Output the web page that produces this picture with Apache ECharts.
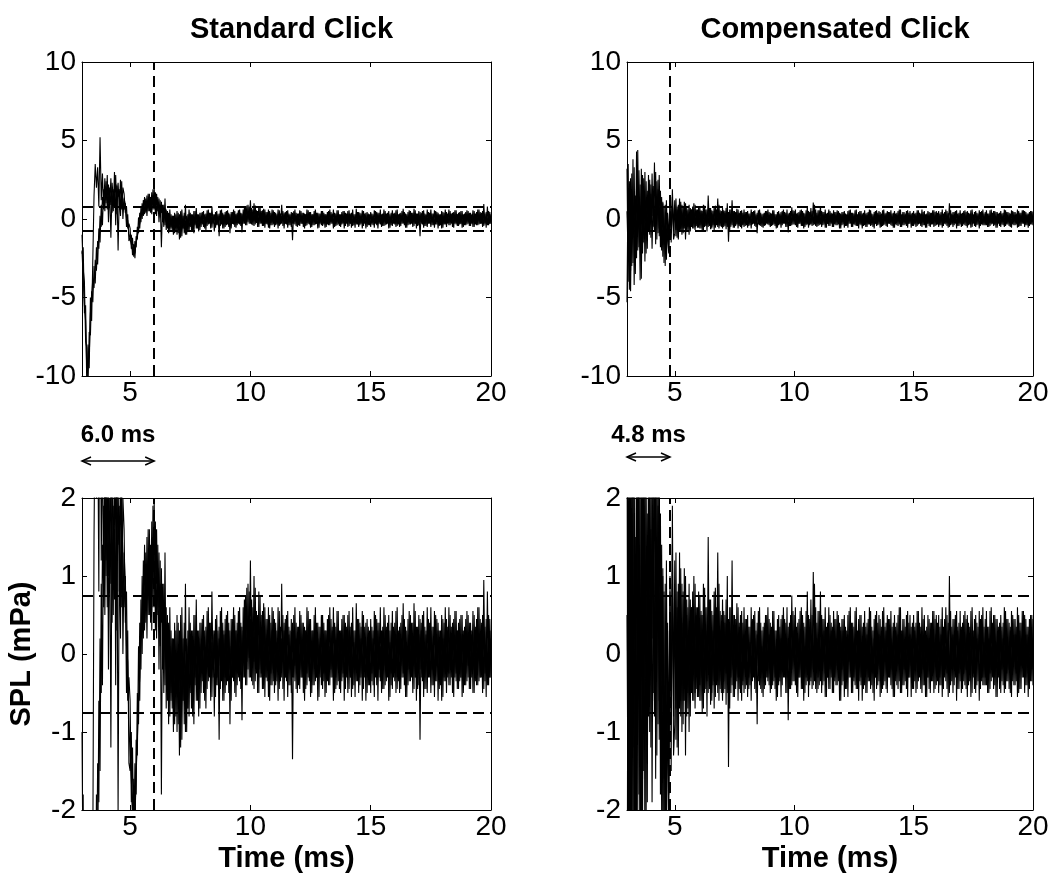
<!DOCTYPE html>
<html>
<head>
<meta charset="utf-8">
<script src="https://cdn.jsdelivr.net/npm/echarts@6/dist/echarts.min.js"></script>
<style>
  html, body { margin: 0; padding: 0; background: #fff; }
  #chart { width: 1063px; height: 882px; }
</style>
</head>
<body>
<div id="chart"></div>
<script>
// Sampling of the recorded click responses
const T0 = 3.0;     // first sample (ms)
const STEP = 0.05;  // sample spacing (ms)

const TIME_TICKS = [5, 10, 15, 20];
const TITLES = ['Standard Click', 'Compensated Click'];
const ONSET_TIMES = [6.0, 4.8];
const ONSET_LABELS = ['6.0 ms', '4.8 ms'];
const NOISE_LIMITS = [0.75, -0.75];

// Standard click, three overlaid recordings (mPa), one row per millisecond
const standardA = [
  -1.0,-3.2,-4.0,-7.8,-8.2,-10.6,-7.2,-7.4,-4.6,-5.3,-3.0,-4.1,-1.8,-2.9,-0.6,-1.5,0.9,-0.4,1.9,0.5,
  2.4,0.6,2.2,0.9,2.6,0.4,1.9,0.7,2.8,0.3,2.3,0.8,2.5,0.6,2.0,1.6,0.4,0.8,-0.6,-0.3,
  -0.6,-1.9,-1.2,-2.4,-1.4,-1.8,-0.5,-0.9,0.4,-0.2,1.0,0.2,1.4,0.4,1.5,0.5,1.6,0.4,1.7,0.6,
  2.0,0.3,1.6,0.5,1.3,0.1,1.1,-0.2,0.9,-0.4,0.6,-0.6,0.4,-0.8,0.3,-0.7,0.2,-0.9,0.3,-1.0,
  0.4,-1.3,0.5,-1.1,0.2,-0.9,0.9,-1.0,0.3,-0.8,0.4,-0.7,0.3,-0.9,0.5,-0.6,0.3,-0.8,0.4,-0.5,
  0.45,-0.5,0.3,-0.7,0.55,-0.35,0.4,-0.6,0.8,-0.3,0.25,-0.55,0.5,-0.4,0.35,-0.45,0.6,-0.6,0.3,-0.5,
  0.5,-0.35,0.4,-0.9,0.45,-0.3,0.6,-0.5,0.3,-0.4,0.55,-0.35,0.4,-0.85,0.6,-0.3,0.75,-0.4,0.9,-0.3,
  1.2,-0.35,0.6,-0.45,0.85,-0.25,0.5,-0.5,0.75,-0.3,0.55,-0.45,0.6,-0.3,0.45,-0.55,0.5,-0.4,0.6,-0.35,
  0.45,-0.4,0.3,-0.6,0.55,-0.35,0.9,-0.45,0.4,-0.3,0.5,-0.55,0.35,-0.4,0.45,-1.35,0.5,-0.35,0.4,-0.5,
  0.35,-0.45,0.5,-0.3,0.4,-0.6,0.3,-0.4,0.55,-0.35,0.45,-0.5,0.3,-0.4,0.6,-0.3,0.4,-0.55,0.35,-0.4,
  0.5,-0.35,0.3,-0.5,0.45,-0.4,0.6,-0.3,0.35,-0.6,0.4,-0.45,0.55,-0.35,0.3,-0.5,0.45,-0.3,0.5,-0.45,
  0.35,-0.5,0.55,-0.3,0.4,-0.45,0.3,-0.55,0.65,-0.35,0.45,-0.4,0.35,-0.6,0.5,-0.3,0.4,-0.5,0.35,-0.4,
  0.45,-0.35,0.3,-0.55,0.5,-0.4,0.4,-0.3,0.6,-0.5,0.35,-0.45,0.5,-0.35,0.4,-0.6,0.3,-0.4,0.55,-0.3,
  0.4,-0.5,0.6,-0.35,0.35,-0.45,0.5,-0.3,0.45,-0.55,0.3,-0.4,0.55,-0.35,0.4,-0.5,0.65,-0.3,0.35,-0.45,
  0.5,-1.1,0.4,-0.35,0.55,-0.45,0.3,-0.5,0.45,-0.3,0.6,-0.4,0.35,-0.55,0.5,-0.35,0.4,-0.45,0.3,-0.6,
  0.45,-0.35,0.6,-0.5,0.35,-0.4,0.5,-0.3,0.4,-0.55,0.55,-0.35,0.3,-0.45,0.45,-0.3,0.5,-0.5,0.35,-0.4,
  0.55,-0.3,0.4,-0.45,0.3,-0.5,0.5,-0.35,0.45,-0.4,0.6,-0.3,0.4,-0.5,0.95,-0.35,0.45,-0.4,0.5,-0.3,
  0.3
];
const standardB = [
  -2.2,-1.8,-6.0,-5.5,-10.8,-8.0,-9.5,-5.0,-6.5,-2.5,1.5,3.5,2.0,3.3,0.8,5.2,1.2,2.9,0.6,2.6,
  1.0,2.8,-0.2,2.0,-1.2,1.8,0.5,3.0,-0.4,2.2,-2.0,1.5,0.2,2.4,0.0,1.3,0.9,-0.5,0.3,-1.4,
  -1.5,-1.0,-2.3,-1.6,-2.5,-1.1,-1.3,0.1,-0.6,0.7,0.0,1.2,0.3,1.3,0.2,1.6,0.5,1.4,0.3,1.9,
  0.6,1.7,0.2,1.4,-0.2,1.2,-1.8,0.9,-0.5,1.3,-0.7,0.5,-0.9,0.6,-0.6,0.2,-1.0,0.4,-0.8,0.5,
  -0.9,0.3,-1.2,0.6,-0.6,0.4,-1.0,0.2,-0.7,0.6,-0.5,0.3,-0.8,0.5,-0.4,0.7,-0.6,0.3,-0.7,0.4,
  -0.35,0.5,-0.6,0.35,-0.45,0.6,-0.3,0.4,-0.55,0.3,-0.8,0.45,-0.4,0.3,-1.1,0.55,-0.35,0.4,-0.6,0.45,
  -0.4,0.55,-0.5,0.3,-0.6,0.45,-0.35,0.5,-0.55,0.4,-0.3,0.6,-0.45,0.35,-0.3,0.7,-0.4,0.85,-0.2,0.8,
  -0.3,0.7,-0.4,1.0,-0.35,0.55,-0.5,0.8,-0.3,0.5,-0.45,0.65,-0.55,0.45,-0.35,0.6,-0.6,0.4,-0.4,0.55,
  -0.5,0.4,-0.35,0.6,-0.45,0.35,-0.3,0.5,-0.6,0.45,-0.35,0.55,-0.4,0.3,-0.5,0.4,-0.3,0.6,-0.45,0.35,
  -0.4,0.55,-0.3,0.4,-0.5,0.35,-0.45,0.6,-0.3,0.45,-0.55,0.3,-0.4,0.5,-0.35,0.4,-0.6,0.35,-0.3,0.5,
  -0.45,0.4,-0.55,0.3,-0.35,0.5,-0.4,0.45,-0.3,0.6,-0.5,0.35,-0.4,0.55,-0.45,0.3,-0.35,0.5,-0.6,0.4,
  -0.3,0.5,-0.45,0.35,-0.55,0.6,-0.4,0.3,-0.35,0.45,-0.5,0.4,-0.3,0.55,-0.45,0.35,-0.6,0.45,-0.4,0.3,
  -0.5,0.35,-0.4,0.55,-0.3,0.45,-0.6,0.4,-0.35,0.3,-0.45,0.6,-0.4,0.35,-0.3,0.5,-0.55,0.4,-0.45,0.35,
  -0.35,0.55,-0.45,0.3,-0.5,0.4,-0.3,0.65,-0.4,0.35,-0.55,0.45,-0.35,0.5,-0.3,0.4,-0.45,0.55,-0.6,0.35,
  -0.4,0.45,-0.3,0.5,-0.55,0.35,-0.45,0.6,-0.3,0.4,-0.5,0.35,-0.4,0.55,-0.35,0.45,-0.6,0.3,-0.4,0.5,
  -0.55,0.4,-0.35,0.45,-0.3,0.6,-0.4,0.35,-0.5,0.45,-0.3,0.55,-0.45,0.4,-0.35,0.5,-0.55,0.3,-0.4,0.45,
  -0.35,0.5,-0.45,0.4,-0.3,0.55,-0.5,0.35,-0.4,0.6,-0.35,0.45,-0.3,0.5,-0.45,0.35,-0.55,0.8,-0.4,0.45,
  -0.3
];
const standardC = [
  -2.0,-3.8,-5.5,-6.5,-9.8,-9.0,-8.8,-6.0,-5.0,-3.8,-4.4,-2.6,-3.3,-1.4,-1.9,0.2,-0.5,1.4,0.8,2.1,
  1.2,2.0,1.0,1.8,0.9,2.3,1.3,1.6,0.8,2.1,1.4,1.9,0.7,1.7,1.3,0.6,1.0,0.1,-0.1,-0.9,
  -1.3,-1.6,-2.0,-1.7,-2.2,-1.5,-1.1,-0.6,-0.3,0.4,0.3,0.9,0.5,1.1,0.7,1.2,0.8,1.3,0.9,1.5,
  1.3,1.4,0.9,1.1,0.6,0.9,0.4,0.6,0.1,0.5,-0.2,0.3,-0.4,0.1,-0.5,0.2,-0.6,0.0,-0.5,-0.1,
  -0.5,0.1,-0.8,0.0,-0.6,0.2,-0.4,0.1,-0.7,0.3,-0.3,0.2,-0.5,0.1,-0.3,0.3,-0.5,0.2,-0.3,0.1,
  0.2,-0.3,0.1,-0.25,0.3,-0.15,0.25,-0.3,0.15,-0.2,0.3,-0.25,0.1,-0.3,0.2,-0.15,0.3,-0.2,0.25,-0.3,
  0.15,-0.25,0.3,-0.2,0.1,-0.3,0.25,-0.15,0.3,-0.25,0.2,-0.1,0.35,-0.2,0.3,-0.15,0.4,-0.1,0.35,-0.05,
  0.45,0.0,0.4,-0.1,0.35,-0.15,0.3,-0.2,0.25,-0.25,0.3,-0.2,0.15,-0.3,0.25,-0.15,0.2,-0.25,0.3,-0.2,
  0.25,-0.3,0.15,-0.2,0.3,-0.25,0.2,-0.1,0.3,-0.3,0.15,-0.25,0.25,-0.2,0.1,-0.3,0.3,-0.15,0.2,-0.25,
  0.3,-0.2,0.1,-0.3,0.25,-0.15,0.3,-0.25,0.2,-0.3,0.15,-0.2,0.3,-0.1,0.25,-0.3,0.2,-0.25,0.1,-0.2,
  0.2,-0.25,0.3,-0.15,0.25,-0.3,0.1,-0.2,0.3,-0.25,0.2,-0.3,0.15,-0.2,0.25,-0.1,0.3,-0.25,0.2,-0.3,
  0.25,-0.15,0.3,-0.3,0.2,-0.25,0.15,-0.2,0.3,-0.1,0.25,-0.3,0.2,-0.25,0.3,-0.15,0.1,-0.3,0.25,-0.2,
  0.3,-0.25,0.2,-0.15,0.25,-0.3,0.3,-0.2,0.1,-0.25,0.3,-0.15,0.2,-0.3,0.25,-0.2,0.15,-0.25,0.3,-0.1,
  0.15,-0.3,0.25,-0.2,0.3,-0.15,0.2,-0.25,0.3,-0.3,0.1,-0.2,0.25,-0.25,0.3,-0.15,0.2,-0.3,0.15,-0.2,
  0.25,-0.2,0.3,-0.25,0.15,-0.3,0.25,-0.1,0.2,-0.25,0.3,-0.2,0.1,-0.3,0.25,-0.15,0.3,-0.25,0.2,-0.2,
  0.2,-0.3,0.15,-0.2,0.3,-0.25,0.2,-0.15,0.25,-0.3,0.1,-0.25,0.3,-0.2,0.2,-0.3,0.25,-0.1,0.3,-0.25,
  0.3,-0.15,0.2,-0.3,0.25,-0.2,0.15,-0.25,0.3,-0.1,0.2,-0.3,0.25,-0.15,0.3,-0.25,0.1,-0.2,0.25,-0.3,
  0.2
];

// Compensated click, three overlaid recordings (mPa), one row per millisecond
const compensatedA = [
  -5.3,3.5,-4.5,2.6,-3.0,3.8,-4.2,1.5,-2.5,4.4,-1.8,2.2,-3.8,2.8,-1.5,3.0,-2.2,1.8,-0.8,2.5,
  -1.2,2.9,-0.5,3.6,-1.6,2.4,-0.9,2.8,-1.8,1.4,-2.4,0.8,-3.0,1.2,-1.4,-2.2,1.0,-1.5,1.9,-0.8,
  1.2,-1.1,0.8,-1.3,1.3,-0.6,0.9,-0.9,1.1,-1.3,0.7,-0.5,0.9,-0.8,0.6,-0.6,1.0,-0.7,0.5,-0.55,
  0.8,-0.6,0.55,-0.75,0.9,-0.5,0.6,-0.8,1.5,-0.45,0.7,-0.6,0.5,-0.7,0.85,-0.4,1.3,-0.6,0.55,-0.5,
  0.7,-0.5,0.5,-0.65,1.0,-1.45,0.6,-0.5,1.2,-0.55,0.5,-0.45,0.65,-0.6,0.4,-0.5,0.55,-0.4,0.6,-0.45,
  0.45,-0.55,0.35,-0.4,0.6,-0.35,0.5,-0.45,0.3,-0.9,0.55,-0.4,0.4,-0.5,0.35,-0.45,0.5,-0.3,0.6,-0.4,
  0.4,-0.45,0.55,-0.35,0.3,-0.6,0.45,-0.4,0.35,-0.55,0.5,-0.3,0.45,-0.5,0.6,-0.85,0.4,-0.45,0.75,-0.35,
  0.5,-0.4,0.35,-0.55,0.45,-0.3,0.6,-0.45,0.4,-0.5,0.55,-0.35,0.5,-0.4,0.7,-0.45,1.05,-0.35,0.6,-0.5,
  0.55,-0.4,0.8,-0.5,0.45,-0.35,0.6,-0.55,0.4,-0.45,0.5,-0.3,0.35,-0.5,0.45,-0.4,0.55,-0.35,0.4,-0.6,
  0.45,-0.35,0.5,-0.45,0.3,-0.55,0.55,-0.3,0.4,-0.5,0.35,-0.4,0.6,-0.45,0.45,-0.35,0.5,-0.6,0.4,-0.4,
  0.35,-0.5,0.45,-0.35,0.55,-0.4,0.3,-0.6,0.5,-0.45,0.4,-0.35,0.45,-0.5,0.55,-0.4,0.35,-0.45,0.5,-0.3,
  0.45,-0.4,0.35,-0.55,0.5,-0.35,0.4,-0.45,0.6,-0.5,0.3,-0.4,0.45,-0.35,0.5,-0.55,0.4,-0.3,0.35,-0.45,
  0.5,-0.35,0.4,-0.45,0.55,-0.3,0.35,-0.5,0.45,-0.4,0.3,-0.55,0.5,-0.45,0.4,-0.35,0.55,-0.5,0.45,-0.4,
  0.4,-0.5,0.35,-0.4,0.6,-0.45,0.45,-0.35,0.5,-0.55,1.0,-0.4,0.35,-0.5,0.45,-0.3,0.55,-0.45,0.4,-0.35,
  0.35,-0.45,0.5,-0.4,0.45,-0.55,0.4,-0.35,0.55,-0.5,0.3,-0.45,0.5,-0.4,0.35,-0.6,0.45,-0.35,0.6,-0.4,
  0.45,-0.4,0.35,-0.5,0.55,-0.35,0.4,-0.45,0.5,-0.55,0.45,-0.3,0.4,-0.5,0.35,-0.4,0.6,-0.45,0.45,-0.35,
  0.4,-0.5,0.55,-0.35,0.45,-0.4,0.35,-0.55,0.5,-0.45,0.4,-0.3,0.55,-0.5,0.45,-0.4,0.35,-0.45,0.5,-0.35,
  0.45
];
const compensatedB = [
  3.2,-4.0,2.4,-4.6,1.8,-2.8,3.3,-3.5,4.3,-2.0,1.4,-3.9,3.2,-1.6,2.6,-2.7,1.2,-1.9,2.8,-1.0,
  2.2,-1.9,1.6,-0.8,3.0,-1.3,2.5,-0.6,1.8,-2.0,1.1,-2.8,0.9,-1.8,0.4,-1.2,0.8,-0.9,1.4,-1.3,
  -0.9,1.3,-1.2,0.9,-0.7,1.1,-1.0,0.8,-0.6,1.0,-0.8,0.6,-1.0,0.7,-0.5,0.8,-0.6,0.9,-0.45,0.6,
  -0.55,0.75,-0.6,0.5,-0.7,0.85,-0.45,0.6,-0.5,0.7,-0.65,0.55,-0.4,0.8,-0.55,0.6,-0.5,0.9,-0.45,0.5,
  -0.6,0.55,-0.45,0.7,-0.5,0.45,-0.7,0.6,-0.4,0.5,-0.55,0.45,-0.35,0.6,-0.45,0.5,-0.6,0.4,-0.5,0.45,
  -0.4,0.5,-0.45,0.35,-0.6,0.45,-0.3,0.55,-0.5,0.4,-0.35,0.6,-0.45,0.3,-0.55,0.4,-0.4,0.5,-0.35,0.45,
  -0.5,0.35,-0.4,0.55,-0.45,0.3,-0.55,0.5,-0.35,0.45,-0.4,0.6,-0.3,0.4,-0.5,0.35,-0.45,0.5,-0.4,0.55,
  -0.35,0.6,-0.5,0.4,-0.3,0.55,-0.45,0.5,-0.6,0.35,-0.4,0.8,-0.55,0.45,-0.35,0.5,-0.4,0.9,-0.45,0.4,
  -0.45,0.55,-0.35,0.5,-0.4,0.45,-0.55,0.35,-0.3,0.6,-0.45,0.4,-0.5,0.55,-0.35,0.45,-0.4,0.5,-0.6,0.35,
  -0.4,0.45,-0.55,0.35,-0.45,0.5,-0.3,0.6,-0.5,0.4,-0.35,0.55,-0.45,0.3,-0.6,0.5,-0.4,0.35,-0.45,0.55,
  -0.5,0.4,-0.35,0.6,-0.45,0.35,-0.5,0.45,-0.3,0.55,-0.4,0.5,-0.55,0.35,-0.45,0.6,-0.35,0.4,-0.5,0.45,
  -0.3,0.55,-0.45,0.4,-0.55,0.35,-0.4,0.5,-0.35,0.6,-0.5,0.45,-0.4,0.35,-0.45,0.55,-0.3,0.5,-0.55,0.4,
  -0.45,0.35,-0.5,0.55,-0.35,0.4,-0.45,0.6,-0.4,0.5,-0.55,0.35,-0.3,0.45,-0.5,0.4,-0.35,0.55,-0.45,0.5,
  -0.35,0.5,-0.4,0.45,-0.55,0.35,-0.3,0.6,-0.45,0.4,-0.5,0.55,-0.35,0.45,-0.4,0.5,-0.6,0.35,-0.45,0.55,
  -0.5,0.4,-0.35,0.55,-0.45,0.5,-0.4,0.35,-0.55,0.6,-0.3,0.45,-0.5,0.4,-0.35,0.55,-0.45,0.5,-0.4,0.35,
  -0.4,0.55,-0.5,0.35,-0.45,0.6,-0.3,0.5,-0.4,0.45,-0.55,0.35,-0.45,0.5,-0.35,0.4,-0.5,0.55,-0.35,0.45,
  -0.45,0.35,-0.55,0.5,-0.4,0.45,-0.35,0.6,-0.5,0.4,-0.45,0.55,-0.3,0.5,-0.4,0.35,-0.55,0.45,-0.35,0.5,
  -0.4
];
const compensatedC = [
  0.5,-2.5,1.8,-3.3,2.9,-1.2,0.6,-2.4,2.0,-0.5,3.1,-1.2,0.9,-2.2,1.9,-0.6,2.4,-1.4,1.1,-0.4,
  1.6,0.2,2.1,-0.6,1.4,0.3,1.9,-1.1,0.6,-0.2,1.0,-1.6,-0.4,-2.6,0.3,-1.8,0.5,-0.4,0.9,-0.6,
  0.5,-0.7,0.6,-0.5,0.9,-0.8,0.4,-0.6,0.7,-0.4,0.5,-0.7,0.3,-0.5,0.6,-0.35,0.4,-0.5,0.6,-0.3,
  0.35,-0.4,0.5,-0.3,0.4,-0.45,0.3,-0.35,0.5,-0.25,0.4,-0.5,0.3,-0.35,0.45,-0.3,0.6,-0.4,0.3,-0.35,
  0.3,-0.35,0.4,-0.25,0.35,-0.4,0.3,-0.3,0.45,-0.2,0.3,-0.35,0.25,-0.3,0.35,-0.25,0.3,-0.35,0.25,-0.2,
  -0.2,0.25,-0.3,0.15,-0.25,0.3,-0.1,0.2,-0.3,0.25,-0.15,0.3,-0.2,0.1,-0.25,0.3,-0.2,0.15,-0.3,0.25,
  -0.25,0.2,-0.15,0.3,-0.3,0.1,-0.2,0.25,-0.3,0.2,-0.1,0.3,-0.25,0.15,-0.3,0.2,-0.15,0.25,-0.2,0.3,
  -0.1,0.3,-0.25,0.2,-0.3,0.15,-0.2,0.3,-0.25,0.1,-0.3,0.25,-0.15,0.2,-0.3,0.25,-0.2,0.3,-0.1,0.2,
  -0.3,0.15,-0.2,0.25,-0.1,0.3,-0.25,0.2,-0.3,0.15,-0.2,0.3,-0.25,0.1,-0.3,0.2,-0.15,0.25,-0.3,0.3,
  -0.2,0.3,-0.15,0.2,-0.3,0.25,-0.1,0.3,-0.25,0.15,-0.3,0.2,-0.2,0.25,-0.15,0.3,-0.3,0.1,-0.25,0.2,
  -0.15,0.25,-0.3,0.3,-0.2,0.1,-0.25,0.2,-0.3,0.3,-0.15,0.25,-0.2,0.15,-0.3,0.2,-0.1,0.3,-0.25,0.25,
  -0.3,0.2,-0.2,0.15,-0.25,0.3,-0.15,0.25,-0.1,0.2,-0.3,0.3,-0.2,0.15,-0.25,0.2,-0.3,0.25,-0.15,0.1,
  -0.25,0.3,-0.1,0.2,-0.3,0.15,-0.25,0.3,-0.2,0.25,-0.15,0.1,-0.3,0.2,-0.2,0.3,-0.25,0.15,-0.1,0.25,
  -0.2,0.15,-0.3,0.25,-0.15,0.3,-0.2,0.1,-0.25,0.3,-0.3,0.2,-0.1,0.25,-0.2,0.15,-0.3,0.3,-0.25,0.2,
  -0.15,0.3,-0.25,0.1,-0.2,0.25,-0.3,0.2,-0.15,0.3,-0.25,0.15,-0.3,0.2,-0.1,0.25,-0.2,0.3,-0.3,0.15,
  -0.3,0.25,-0.15,0.2,-0.25,0.1,-0.2,0.3,-0.3,0.15,-0.1,0.25,-0.25,0.3,-0.2,0.2,-0.15,0.3,-0.25,0.1,
  -0.2,0.3,-0.3,0.15,-0.1,0.25,-0.25,0.2,-0.3,0.3,-0.15,0.2,-0.2,0.1,-0.3,0.25,-0.25,0.3,-0.1,0.2,
  -0.2
];

const FONT = '"Liberation Sans", Arial, Helvetica, sans-serif';

// Panel layout: top row full range, bottom row zoomed into the noise floor
const GRIDS = [
  { left: 82, top: 62, width: 409, height: 314 },
  { left: 627, top: 62, width: 406, height: 314 },
  { left: 82, top: 498, width: 409, height: 312 },
  { left: 627, top: 498, width: 406, height: 312 }
];
const PANELS = [
  { traces: [standardA, standardB, standardC], yMin: -10, yMax: 10, yStep: 5, click: 0 },
  { traces: [compensatedA, compensatedB, compensatedC], yMin: -10, yMax: 10, yStep: 5, click: 1 },
  { traces: [standardA, standardB, standardC], yMin: -2, yMax: 2, yStep: 1, click: 0 },
  { traces: [compensatedA, compensatedB, compensatedC], yMin: -2, yMax: 2, yStep: 1, click: 1 }
];

function toPoints(values) {
  return values.map((v, i) => [+(T0 + i * STEP).toFixed(2), v]);
}

const axisLine = { onZero: false, lineStyle: { color: '#000', width: 1 } };
const tickStyle = { color: '#000', width: 1 };
const labelStyle = { color: '#000', fontSize: 28, fontFamily: FONT };
const nameStyle = { color: '#000', fontSize: 29, fontWeight: 'bold', fontFamily: FONT };

const xAxis = [], yAxis = [], series = [];

PANELS.forEach((p, g) => {
  const bottomRow = g >= 2;
  xAxis.push({
    gridIndex: g, type: 'value', min: T0, max: 20, position: 'bottom',
    axisLine: axisLine,
    axisTick: { inside: true, length: 5, customValues: TIME_TICKS, lineStyle: tickStyle },
    axisLabel: Object.assign({ customValues: TIME_TICKS, margin: 3 }, labelStyle),
    splitLine: { show: false },
    name: bottomRow ? 'Time (ms)' : '',
    nameLocation: 'middle', nameGap: 34, nameTextStyle: nameStyle
  });
  xAxis.push({
    gridIndex: g, type: 'value', min: T0, max: 20, position: 'top',
    axisLine: axisLine,
    axisTick: { inside: true, length: 5, customValues: TIME_TICKS, lineStyle: tickStyle },
    axisLabel: { show: false }, splitLine: { show: false }
  });
  yAxis.push({
    gridIndex: g, type: 'value', min: p.yMin, max: p.yMax, interval: p.yStep, position: 'left',
    axisLine: axisLine,
    axisTick: { inside: true, length: 5, lineStyle: tickStyle },
    axisLabel: Object.assign({ margin: 6 }, labelStyle),
    splitLine: { show: false },
    name: g === 2 ? 'SPL (mPa)' : '',
    nameLocation: 'middle', nameRotate: 90, nameGap: 46, nameTextStyle: nameStyle
  });
  yAxis.push({
    gridIndex: g, type: 'value', min: p.yMin, max: p.yMax, interval: p.yStep, position: 'right',
    axisLine: axisLine,
    axisTick: { inside: true, length: 5, lineStyle: tickStyle },
    axisLabel: { show: false }, splitLine: { show: false }
  });

  p.traces.forEach((trace, k) => {
    const s = {
      type: 'line', xAxisIndex: 2 * g, yAxisIndex: 2 * g,
      data: toPoints(trace),
      symbol: 'none', showSymbol: false, silent: true, animation: false, clip: true,
      lineStyle: { color: '#000', width: 1.1 }
    };
    if (k === 0) {
      s.markLine = {
        silent: true, animation: false, symbol: ['none', 'none'],
        label: { show: false },
        lineStyle: { color: '#000', type: [11, 6], width: 2 },
        emphasis: { disabled: true },
        data: [
          { xAxis: ONSET_TIMES[p.click] },
          { yAxis: NOISE_LIMITS[0] },
          { yAxis: NOISE_LIMITS[1] }
        ]
      };
    }
    series.push(s);
  });
});

const chart = echarts.init(document.getElementById('chart'), null, { renderer: 'canvas' });
chart.setOption({
  backgroundColor: '#fff',
  animation: false,
  title: TITLES.map((t, i) => ({
    text: t,
    left: GRIDS[i].left + GRIDS[i].width / 2,
    top: 10,
    textAlign: 'center',
    textStyle: { color: '#000', fontSize: 29, fontWeight: 'bold', fontFamily: FONT }
  })),
  grid: GRIDS.map(g => Object.assign({ show: false }, g)),
  xAxis: xAxis,
  yAxis: yAxis,
  series: series
});

// Onset-duration annotations above the lower panels
const arrowY = [461, 457];
const graphics = [];
[2, 3].forEach((g, j) => {
  const x1 = chart.convertToPixel({ xAxisIndex: 2 * g }, T0);
  const x2 = chart.convertToPixel({ xAxisIndex: 2 * g }, ONSET_TIMES[j]);
  const y = arrowY[j];
  const stroke = { stroke: '#000', lineWidth: 1.5, fill: null };
  graphics.push({ type: 'line', shape: { x1: x1, y1: y, x2: x2, y2: y }, style: stroke, silent: true });
  graphics.push({ type: 'polyline', shape: { points: [[x1 + 9, y - 4], [x1, y], [x1 + 9, y + 4]] }, style: stroke, silent: true });
  graphics.push({ type: 'polyline', shape: { points: [[x2 - 9, y - 4], [x2, y], [x2 - 9, y + 4]] }, style: stroke, silent: true });
  graphics.push({
    type: 'text', x: (x1 + x2) / 2, y: 435, silent: true,
    style: { text: ONSET_LABELS[j], fill: '#000', font: 'bold 24px ' + FONT, align: 'center', verticalAlign: 'middle' }
  });
});
chart.setOption({ graphic: graphics });
</script>
</body>
</html>
